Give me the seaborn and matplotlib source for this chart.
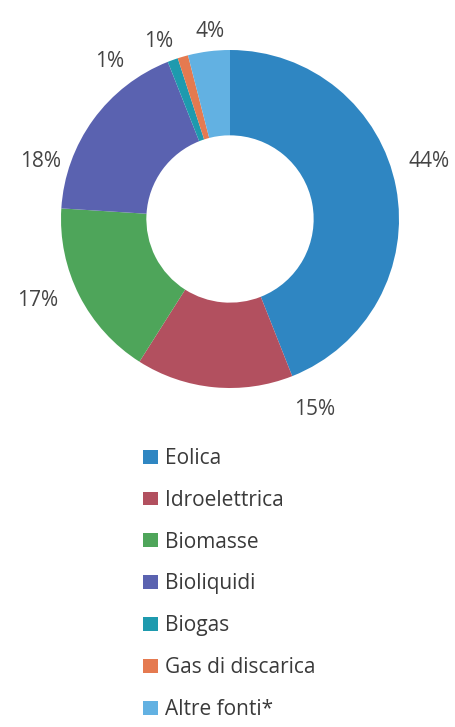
import matplotlib
matplotlib.use("Agg")
import matplotlib.pyplot as plt
import seaborn as sns
from matplotlib.patches import Patch

# Share of renewable production by source (%)
sources = ["Eolica", "Idroelettrica", "Biomasse", "Bioliquidi", "Biogas",
           "Gas di discarica", "Altre fonti*"]
shares = [44, 15, 17, 18, 1, 1, 4]
colors = ["#2f86c2", "#b2505f", "#4ea55a", "#5a62b0", "#1e9aae",
          "#e57a50", "#62b1e2"]

# Label anchor points around the ring (axes data units, radius = 1)
label_xy = [(1.18, 0.34), (0.50, -1.13), (-1.14, -0.48), (-1.12, 0.34),
            (-0.71, 0.93), (-0.42, 1.05), (-0.12, 1.11)]

sns.set_theme(style="white")
plt.rcParams["font.family"] = ["Open Sans", "DejaVu Sans"]

W, H = 456, 727
fig = plt.figure(figsize=(W / 100, H / 100), dpi=100)
fig.patch.set_facecolor("white")

cx, cy, r = 230, 219, 169
ax = fig.add_axes([(cx - r) / W, 1 - (cy + r) / H, 2 * r / W, 2 * r / H])
palette = sns.color_palette(colors)
wedges, _ = ax.pie(shares, colors=palette, startangle=90, counterclock=False,
                   radius=1, wedgeprops=dict(width=0.505, linewidth=0))
ax.set_xlim(-1, 1)
ax.set_ylim(-1, 1)
ax.set_aspect("auto")
ax.axis("off")

for val, (x, y) in zip(shares, label_xy):
    ax.text(x, y, f"{val}%", ha="center", va="center", fontsize=15,
            color="#444444", clip_on=False)

handles = [Patch(facecolor=c, edgecolor="none") for c in palette]
fig.legend(handles, sources, loc="upper left",
           bbox_to_anchor=(143 / W, 1 - 448 / H), frameon=False,
           fontsize=15, handlelength=0.72, handleheight=0.65,
           handletextpad=0.33, labelspacing=1.0, labelcolor="#3a3a3a",
           borderaxespad=0, borderpad=0)

fig.savefig("out.png", dpi=100, facecolor="white")
